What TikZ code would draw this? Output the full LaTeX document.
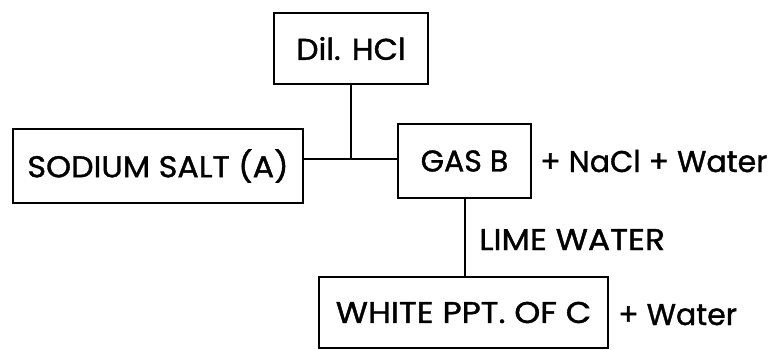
\documentclass[tikz,border=0pt]{standalone}
\usepackage{fontspec}
\setmainfont{Poppins}[FakeBold=1.2]
\newcommand{\hs}[2]{\scalebox{#1}[1]{#2}}
\begin{document}
\begin{tikzpicture}[x=1pt,y=-1pt,
  box/.style={draw,line width=2pt,inner sep=0pt,anchor=north west,font=\fontsize{30}{36}\selectfont},
  lbl/.style={inner sep=0pt,font=\fontsize{30}{36}\selectfont},
  conn/.style={line width=2pt}]
\useasboundingbox (0,0) rectangle (773,349);
\node[box,minimum width=154pt,minimum height=71pt] (hcl) at (273,12) {\hs{1.05}{Dil. HCl}};
\node[box,minimum width=290pt,minimum height=74pt] (na) at (12,128) {\hs{1.06}{SODIUM SALT (A)}};
\node[box,minimum width=133pt,minimum height=74pt] (gas) at (397,123) {GAS B};
\node[box,minimum width=289pt,minimum height=71pt] (ppt) at (318,276) {\hs{1.1}{WHITE PPT. OF C}};
\coordinate (j) at (hcl.south |- 0,159);
\draw[conn] (hcl.south) -- (j);
\draw[conn] (na.east |- j) -- (gas.west |- j);
\draw[conn] (gas.south) -- (ppt.north -| gas.south);
\node[lbl,anchor=base west] (nacl) at (540,172) {+ NaCl + Water};
\node[lbl,anchor=base west] (lime) at (479,250) {\hs{1.1}{LIME WATER}};
\node[lbl,anchor=base west] (wat) at (618,325) {+ Water};
\end{tikzpicture}
\end{document}
